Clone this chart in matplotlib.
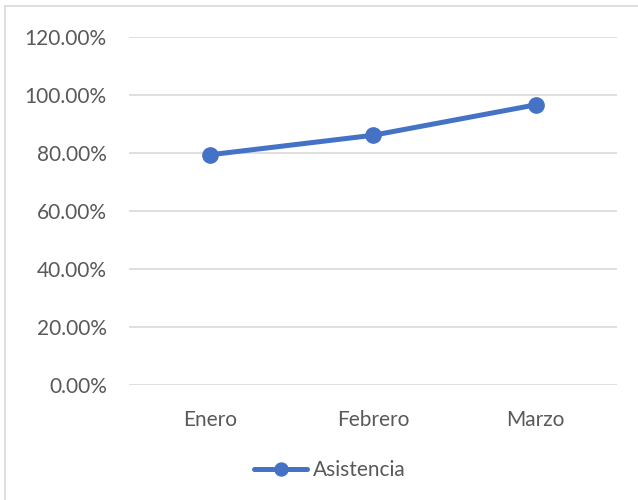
import matplotlib.pyplot as plt
from matplotlib.patches import Rectangle
from matplotlib.ticker import FuncFormatter

meses = ['Enero', 'Febrero', 'Marzo']
asistencia = [79.3, 86.0, 96.5]
y_ticks = [0, 20, 40, 60, 80, 100, 120]

plt.rcParams['font.family'] = ['Lato', 'DejaVu Sans']

fig = plt.figure(figsize=(6.38, 5), dpi=100)
ax = fig.add_axes([129 / 638, 1 - 384.7 / 500, 488 / 638, 348 / 500])

# chart frame (only left/top visible in the crop)
fig.patches.append(Rectangle((5 / 638, -0.1), 1.2, 1.1 - 6 / 500,
                             transform=fig.transFigure, fill=False,
                             edgecolor='#D9D9D9', linewidth=1.2))

x = list(range(len(meses)))
ax.plot(x, asistencia, color='#4472C4', linewidth=3.6, marker='o',
        markersize=11, label='Asistencia', solid_capstyle='round', zorder=3)

ax.set_xlim(-0.5, 2.5)
ax.set_ylim(0, 120)
ax.set_yticks(y_ticks)
ax.yaxis.set_major_formatter(FuncFormatter(lambda v, p: f'{v:.2f}%'))
ax.set_xticks(x)
ax.set_xticklabels(meses)
ax.grid(axis='y', color='#D9D9D9', linewidth=1.2)
ax.set_axisbelow(True)
for s in ax.spines.values():
    s.set_visible(False)
ax.tick_params(axis='both', length=0, labelsize=15, colors='#595959')
ax.tick_params(axis='y', pad=16)
ax.tick_params(axis='x', pad=18)

leg = fig.legend(loc='center', bbox_to_anchor=(330 / 638, 1 - 470 / 500),
                 frameon=False, fontsize=15, labelcolor='#595959',
                 handlelength=2.5, handletextpad=0.3, markerscale=0.85)

plt.savefig('out.png', dpi=100)
